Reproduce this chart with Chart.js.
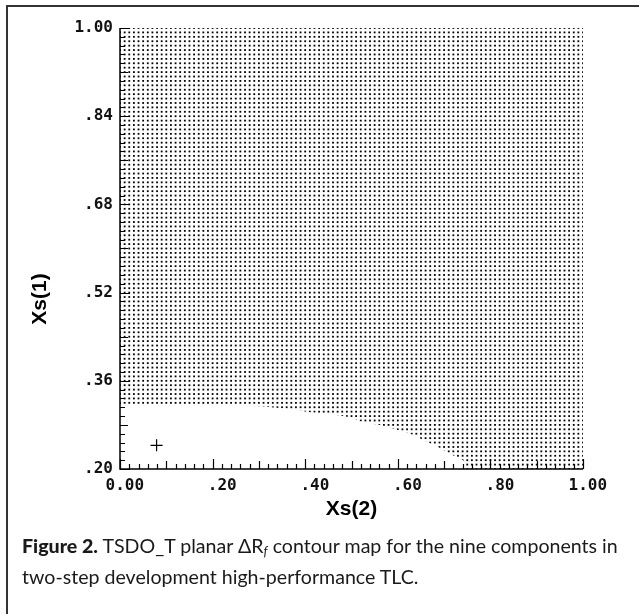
<!DOCTYPE html>
<html>
<head>
<meta charset="utf-8">
<script src="https://cdn.jsdelivr.net/npm/chart.js@4.4.1/dist/chart.umd.min.js"></script>
<style>
  html, body { margin:0; padding:0; background:#fff; }
  #wrap { position:relative; width:639px; height:616px; overflow:hidden; }
  #frame { position:absolute; left:6px; top:5px; width:700px; height:607px;
           border-left:2px solid #333; border-top:2px solid #333; }
  canvas { position:absolute; left:0; top:0; }
  #cap { position:absolute; left:22px; top:530px; width:615px; white-space:nowrap;
         font-family:"Lato","Noto Sans",sans-serif; font-size:19.6px; line-height:31px; color:#1a1a1a; }
  #cap b { font-weight:900; }
  #cap sub { font-size:13px; vertical-align:-3px; line-height:0; }
</style>
</head>
<body>
<div id="wrap">
  <div id="frame"></div>
  <canvas id="c" width="639" height="616"></canvas>
  <div id="cap"><b>Figure 2.</b> TSDO_T planar ΔR<sub><i>f</i></sub> contour map for the nine components in<br>two-step development high-performance TLC.</div>
</div>
<script>
// ---- data ----
const xTickLabels = ['0.00', '.20', '.40', '.60', '.80', '1.00'];
const yTickLabels = ['.20', '.36', '.52', '.68', '.84', '1.00'];
// lower edge of the dotted (above-threshold) region, Xs(2) -> Xs(1)
const boundaryX = [0.000, 0.173, 0.302, 0.367, 0.410, 0.454, 0.497, 0.525, 0.562, 0.598, 0.633, 0.663, 0.691, 0.719, 0.741, 0.749, 1.000];
const boundaryY = [0.316, 0.316, 0.314, 0.309, 0.303, 0.300, 0.294, 0.285, 0.280, 0.271, 0.262, 0.249, 0.238, 0.225, 0.216, 0.200, 0.200];
// optimum marker
const markerX = [0.079];
const markerY = [0.243];
const xTitle = 'Xs(2)';
const yTitle = 'Xs(1)';

const xTickVals = xTickLabels.map(parseFloat);
const yTickVals = yTickLabels.map(parseFloat);

let patCache = null;
function dotPattern(chart) {
  const xs = chart.scales.x, ys = chart.scales.y;
  if (!xs || !ys || !chart.chartArea) return 'rgba(0,0,0,0.3)';
  const key = chart.width + 'x' + chart.height + ':' + chart.chartArea.left + ',' + chart.chartArea.top;
  if (patCache && patCache.key === key) return patCache.pat;
  const cv = document.createElement('canvas');
  cv.width = chart.width; cv.height = chart.height;
  const g = cv.getContext('2d');
  g.fillStyle = '#000';
  const d = 1.8;
  for (let i = 0; i <= 100; i++) {
    const px = xs.getPixelForValue(i / 100);
    for (let j = 0; j <= 100; j++) {
      const py = ys.getPixelForValue(0.2 + j * 0.008);
      g.fillRect(px - d / 2, py - d / 2, d, d);
    }
  }
  const pat = g.createPattern(cv, 'no-repeat');
  patCache = { key, pat };
  return pat;
}

const axisPlugin = {
  id: 'axisDecor',
  afterDraw(chart) {
    const ctx = chart.ctx, a = chart.chartArea;
    const xs = chart.scales.x, ys = chart.scales.y;
    ctx.save();
    ctx.strokeStyle = '#000';
    ctx.lineWidth = 1.5;
    ctx.beginPath();
    ctx.moveTo(a.left, a.top); ctx.lineTo(a.left, a.bottom); ctx.lineTo(a.right, a.bottom);
    ctx.stroke();
    ctx.lineWidth = 1.2;
    ctx.beginPath();
    // y ticks (inward)
    for (let k = 0; k <= 50; k++) {
      const v = 0.2 + k * 0.016;
      const py = Math.round(ys.getPixelForValue(v)) + 0.5;
      const len = (k % 10 === 0) ? 10 : (k % 5 === 0 ? 8 : 5);
      ctx.moveTo(a.left, py); ctx.lineTo(a.left + len, py);
    }
    // x ticks (inward)
    for (let k = 0; k <= 50; k++) {
      const v = k * 0.02;
      const px = Math.round(xs.getPixelForValue(v)) + 0.5;
      const len = (k % 10 === 0) ? 10 : (k % 5 === 0 ? 8 : 5);
      ctx.moveTo(px, a.bottom); ctx.lineTo(px, a.bottom - len);
    }
    ctx.stroke();
    // axis titles
    ctx.fillStyle = '#000';
    ctx.font = 'bold 21px "Liberation Sans", Arial, sans-serif';
    ctx.textAlign = 'center';
    ctx.textBaseline = 'middle';
    ctx.fillText(xTitle, (a.left + a.right) / 2, 509);
    ctx.translate(40, 299);
    ctx.rotate(-Math.PI / 2);
    ctx.fillText(yTitle, 0, 0);
    ctx.restore();
  }
};

const tickFont = { family: '"DejaVu Sans Mono", monospace', size: 16, weight: 'bold' };

new Chart(document.getElementById('c'), {
  data: {
    datasets: [
      {
        type: 'line',
        label: 'region',
        data: boundaryX.map((x, i) => ({ x, y: boundaryY[i] })),
        fill: 'end',
        backgroundColor: (ctx) => dotPattern(ctx.chart),
        borderWidth: 0,
        borderColor: 'rgba(0,0,0,0)',
        pointRadius: 0,
        tension: 0
      },
      {
        type: 'scatter',
        label: 'optimum',
        data: markerX.map((x, i) => ({ x, y: markerY[i] })),
        pointStyle: 'cross',
        pointRadius: 6,
        borderColor: '#000',
        borderWidth: 1.2,
        backgroundColor: '#000'
      }
    ]
  },
  options: {
    responsive: false,
    animation: false,
    layout: { padding: { left: 0, top: 28, right: 56, bottom: 0 } },
    plugins: { legend: { display: false }, tooltip: { enabled: false } },
    scales: {
      x: {
        type: 'linear', min: 0, max: 1,
        afterBuildTicks: s => { s.ticks = xTickVals.map(v => ({ value: v })); },
        afterFit: s => { s.height = 616 - 469; },
        grid: { display: false, drawTicks: false }, border: { display: false },
        ticks: {
          padding: 7, maxRotation: 0, autoSkip: false,
          color: '#111',
          font: tickFont,
          callback: (v, i) => {
            const s = xTickLabels[i];
            const dp = s.indexOf('.');
            const right = s.length - dp - 1;
            return ' '.repeat(Math.max(0, right - dp)) + s;
          }
        }
      },
      y: {
        type: 'linear', min: 0.2, max: 1.0,
        afterBuildTicks: s => { s.ticks = yTickVals.map(v => ({ value: v })); },
        afterFit: s => { s.width = 120; },
        grid: { display: false, drawTicks: false }, border: { display: false },
        ticks: {
          padding: 7, autoSkip: false,
          color: '#111',
          font: tickFont,
          callback: (v, i) => yTickLabels[i]
        }
      }
    }
  },
  plugins: [axisPlugin]
});
</script>
</body>
</html>
